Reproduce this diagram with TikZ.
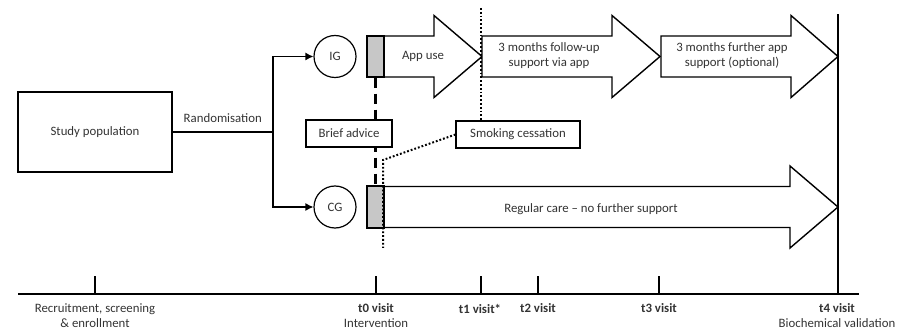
\documentclass[tikz,border=0pt]{standalone}
\usepackage{fontspec}
\setmainfont{Carlito}
\usetikzlibrary{arrows.meta,positioning,calc}

\newcommand{\blockarrow}[4]{%
  \draw[fat] (#1,#4-20.5) -- (#2,#4-20.5) -- (#2,#4-41) -- (#3,#4)
    -- (#2,#4+41) -- (#2,#4+20.5) -- (#1,#4+20.5) -- cycle;}

\begin{document}
\begin{tikzpicture}[x=1pt,y=1pt,
  font=\fontsize{12.8}{15}\selectfont,
  box/.style={draw,line width=1.1pt,align=center,inner sep=0pt,text=black!80},
  grp/.style={draw,circle,line width=1.2pt,minimum size=42pt,inner sep=0pt,text=black!80},
  startbox/.style={draw,line width=1.2pt,fill=black!22,minimum width=17pt,inner sep=0pt},
  fat/.style={draw,line width=1.4pt,fill=white},
  arr/.style={-{Latex[length=8pt,width=8pt]},line width=1.2pt},
  tickline/.style={line width=1.3pt},
  dots/.style={line width=2pt,dash pattern=on 1.8pt off 2pt},
  dashes/.style={line width=2.6pt,dash pattern=on 10pt off 6pt},
  lbl/.style={align=center,inner sep=0pt,text=black!80}
]
\useasboundingbox (0,0) rectangle (904,332);

% randomisation
\node[box,minimum width=154pt,minimum height=80pt] (pop) at (95,200) {Study population};
\coordinate (split) at (273,200);
\node[grp] (ig) at (335,275.5) {IG};
\node[grp] (cg) at (335,125) {CG};
\draw[line width=1.2pt] (pop.east) -- node[lbl,midway,above=9pt] (rand) {Randomisation} (split);
\draw[arr] (split) |- (ig.west);
\draw[arr] (split) |- (cg.west);

% phases
\blockarrow{384}{434}{482}{275.5}
\blockarrow{482}{612}{660}{275.5}
\blockarrow{661}{791}{838}{275.5}
\blockarrow{384}{790}{838}{125}
\node[lbl] (appuse) at (423,276) {App use};
\node[lbl] (follow) at (549,276) {3 months follow-up\\support via app};
\node[lbl] (further) at (732,276) {3 months further app\\support (optional)};
\node[lbl] (regular) at (591,123) {Regular care -- no further support};

\node[startbox,minimum height=41pt] (igstart) at (375.5,275.5) {};
\node[startbox,minimum height=42pt] (cgstart) at (375.5,125) {};
\draw[dashes] (igstart.south) -- (cgstart.north);
\node[box,fill=white,minimum width=86pt,minimum height=27pt] (brief) at (349,198.5) {Brief advice};

% smoking cessation
\node[box,fill=white,minimum width=124pt,minimum height=27pt] (quit) at (518,197.5) {Smoking cessation};
\coordinate (qtop) at (481,324);
\coordinate (qbend) at (383,172);
\coordinate (qend) at (383,84);
\draw[dots] (qtop) -- (qtop |- quit.north);
\draw[dots] (quit.west) -- (qbend) -- (qend);

% timeline
\coordinate (axl) at (18,38);
\coordinate (axr) at (859,38);
\draw[tickline] (axl) -- (axr);
\draw[tickline] (95,38) -- (95,56);
\draw[tickline] (376,38) -- (376,56);
\draw[tickline] (481,38) -- (481,56);
\draw[tickline] (538,38) -- (538,56);
\draw[tickline] (659,38) -- (659,56);
\draw[tickline] (838,38) -- (838,318);
\node[lbl] (recruit) at (95,16) {Recruitment, screening\\\& enrollment};
\node[lbl] (tzero) at (376,16) {\textbf{t0 visit}\\Intervention};
\node[lbl] (tone) at (480,23.5) {\textbf{t1 visit*}};
\node[lbl] (ttwo) at (538,23.5) {\textbf{t2 visit}};
\node[lbl] (tthree) at (659,23.5) {\textbf{t3 visit}};
\node[lbl] (tfour) at (837,16) {\textbf{t4 visit}\\Biochemical validation};
\end{tikzpicture}
\end{document}
